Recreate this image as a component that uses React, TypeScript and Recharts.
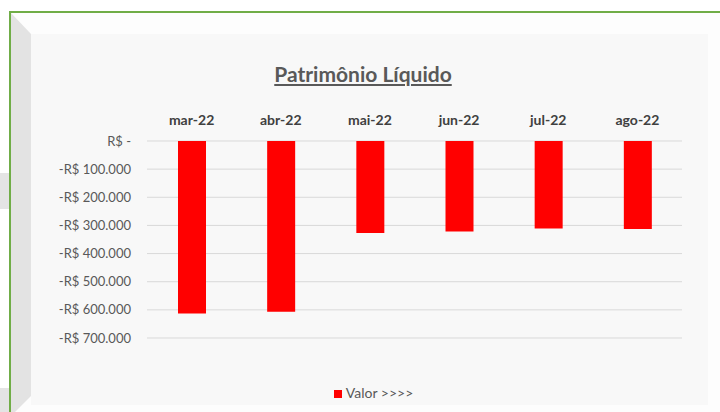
import React from 'react';
import {
  BarChart,
  Bar,
  XAxis,
  YAxis,
  CartesianGrid,
  Legend
} from 'recharts';

// Patrimônio Líquido (R$) por mês
const months = ['mar-22', 'abr-22', 'mai-22', 'jun-22', 'jul-22', 'ago-22'];
const valores = [-613000, -607000, -327000, -322000, -311000, -313000];
const yTicks = [0, -100000, -200000, -300000, -400000, -500000, -600000, -700000];

const data = months.map((m, i) => ({ mes: m, valor: valores[i] }));

const FONT = 'Lato, "Noto Sans", sans-serif';

const formatReal = (v: number) => {
  if (v === 0) return 'R$ -';
  const abs = Math.abs(v).toString().replace(/\B(?=(\d{3})+(?!\d))/g, '.');
  return `${v < 0 ? '-' : ''}R$ ${abs}`;
};

export default function App() {
  return (
    <div
      style={{
        position: 'absolute',
        left: 0,
        top: 0,
        width: 720,
        height: 412,
        overflow: 'hidden',
        background: '#ffffff',
        fontFamily: FONT
      }}
    >
      {/* frame decoration */}
      <svg width={720} height={412} style={{ position: 'absolute', left: 0, top: 0 }}>
        <rect x={0} y={173} width={9} height={36} fill="#e4e4e4" />
        <rect x={0} y={388} width={9} height={24} fill="#e4e4e4" />
        <rect x={10} y={12} width={720} height={420} fill="#fdfdfd" />
        <polygon points="11,13 31,34 31,396 11,416" fill="#e3e3e3" />
        <rect x={31} y={34} width={677} height={371} fill="#f8f8f8" />
        <line x1={10} y1={12} x2={720} y2={12} stroke="#70ad47" strokeWidth={2} />
        <line x1={10} y1={11} x2={10} y2={412} stroke="#70ad47" strokeWidth={2} />
      </svg>

      <div
        style={{
          position: 'absolute',
          left: 31,
          top: 61,
          width: 664,
          textAlign: 'center',
          fontSize: 21,
          fontWeight: 700,
          color: '#595959',
          textDecoration: 'underline'
        }}
      >
        Patrimônio Líquido
      </div>

      <div style={{ position: 'absolute', left: 31, top: 34 }}>
        <BarChart
          width={677}
          height={371}
          data={data}
          margin={{ top: 77, right: 26, left: 0, bottom: 50 }}
          barSize={28}
        >
          <CartesianGrid horizontal vertical={false} stroke="#d9d9d9" />
          <XAxis
            dataKey="mes"
            orientation="top"
            height={30}
            axisLine={false}
            tickLine={false}
            tickMargin={10}
            tick={{ fontSize: 14, fontWeight: 700, fill: '#404040', fontFamily: FONT }}
          />
          <YAxis
            width={116}
            domain={[-700000, 0]}
            ticks={yTicks}
            axisLine={false}
            tickLine={false}
            tickMargin={10}
            tickFormatter={formatReal}
            tick={{ fontSize: 13, fill: '#595959', fontFamily: FONT }}
          />
          <Legend
            verticalAlign="bottom"
            iconType="square"
            iconSize={8}
            wrapperStyle={{ fontSize: 14, fontFamily: FONT, left: 9, width: 677, bottom: 4 }}
            formatter={(value) => <span style={{ color: '#595959' }}>{value}</span>}
          />
          <Bar dataKey="valor" name="Valor >>>>" fill="#ff0000" isAnimationActive={false} />
        </BarChart>
      </div>
    </div>
  );
}
